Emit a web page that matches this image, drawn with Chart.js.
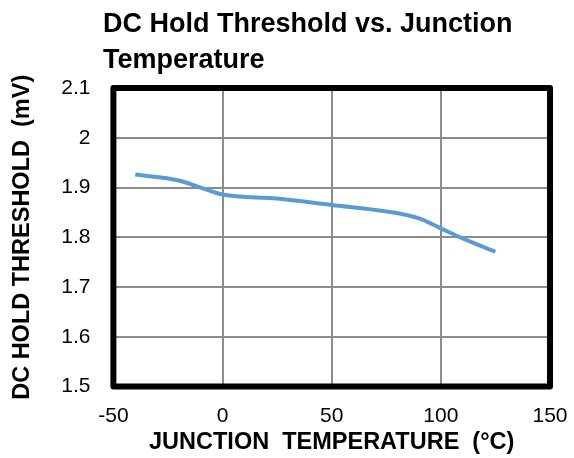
<!DOCTYPE html>
<html>
<head>
<meta charset="utf-8">
<script src="https://cdn.jsdelivr.net/npm/chart.js@4.4.1/dist/chart.umd.min.js"></script>
<style>
html,body{margin:0;padding:0;background:#fff;}
#wrap{width:574px;height:458px;}
</style>
</head>
<body>
<div id="wrap"><canvas id="c" width="574" height="458"></canvas></div>
<script>
const titleLines = ["DC Hold Threshold vs. Junction", "Temperature"];
const xTitle = "JUNCTION  TEMPERATURE  (\u00B0C)";
const yTitle = "DC HOLD THRESHOLD  (mV)";
const temperatures = [-40, -20, -10, 0, 25, 50, 75, 90, 100, 110, 125];
const thresholds = [1.926, 1.914, 1.900, 1.886, 1.878, 1.865, 1.852, 1.838, 1.818, 1.798, 1.771];
const xTicks = [-50, 0, 50, 100, 150];
const yTicks = [1.5, 1.6, 1.7, 1.8, 1.9, 2.0, 2.1];
const yTickLabels = ["1.5", "1.6", "1.7", "1.8", "1.9", "2", "2.1"];

const FONT = "'Liberation Sans', Arial, sans-serif";

const frame = {
  id: 'frame',
  afterDatasetsDraw(chart) {
    const {ctx, chartArea: a} = chart;
    ctx.save();
    ctx.strokeStyle = '#000';
    ctx.lineWidth = 6;
    ctx.lineJoin = 'round';
    ctx.strokeRect(a.left, a.top, a.right - a.left, a.bottom - a.top);
    ctx.restore();
  },
  afterDraw(chart) {
    const ctx = chart.ctx;
    ctx.save();
    ctx.fillStyle = '#000';
    ctx.font = "bold 27px " + FONT;
    ctx.textBaseline = 'alphabetic';
    ctx.textAlign = 'left';
    ctx.fillText(titleLines[0], 103, 32);
    ctx.fillText(titleLines[1], 103, 68);
    ctx.restore();
  }
};

new Chart(document.getElementById('c'), {
  type: 'line',
  data: {
    datasets: [{
      data: temperatures.map((t, i) => ({x: t, y: thresholds[i]})),
      borderColor: '#5b9bd5',
      borderWidth: 4,
      pointRadius: 0,
      cubicInterpolationMode: 'monotone',
      fill: false
    }]
  },
  options: {
    responsive: false,
    animation: false,
    layout: {padding: {top: 88, right: 24, left: 6, bottom: 1}},
    plugins: {legend: {display: false}, tooltip: {enabled: false}, title: {display: false}},
    scales: {
      x: {
        type: 'linear', min: -50, max: 150,
        afterBuildTicks: s => { s.ticks = xTicks.map(v => ({value: v})); },
        afterFit: s => { s.paddingRight = 0; s.paddingLeft = 0; },
        grid: {color: '#8c8c8c', lineWidth: 2, drawTicks: false},
        border: {display: false},
        ticks: {color: '#000', font: {family: FONT, size: 21}, padding: 17, maxRotation: 0},
        title: {display: true, text: xTitle, color: '#000', font: {family: FONT, size: 23.5, weight: 'bold'}, padding: {top: -17, bottom: 0}}
      },
      y: {
        type: 'linear', min: 1.5, max: 2.1,
        afterBuildTicks: s => { s.ticks = yTicks.map(v => ({value: v})); },
        grid: {color: '#8c8c8c', lineWidth: 2, drawTicks: false},
        border: {display: false},
        ticks: {color: '#000', font: {family: FONT, size: 21}, padding: 23,
          callback: (v) => yTickLabels[yTicks.findIndex(t => Math.abs(t - v) < 1e-9)]},
        title: {display: true, text: yTitle, color: '#000', font: {family: FONT, size: 23.5, weight: 'bold'}, padding: {top: 2, bottom: 2}}
      }
    }
  },
  plugins: [frame]
});
</script>
</body>
</html>
